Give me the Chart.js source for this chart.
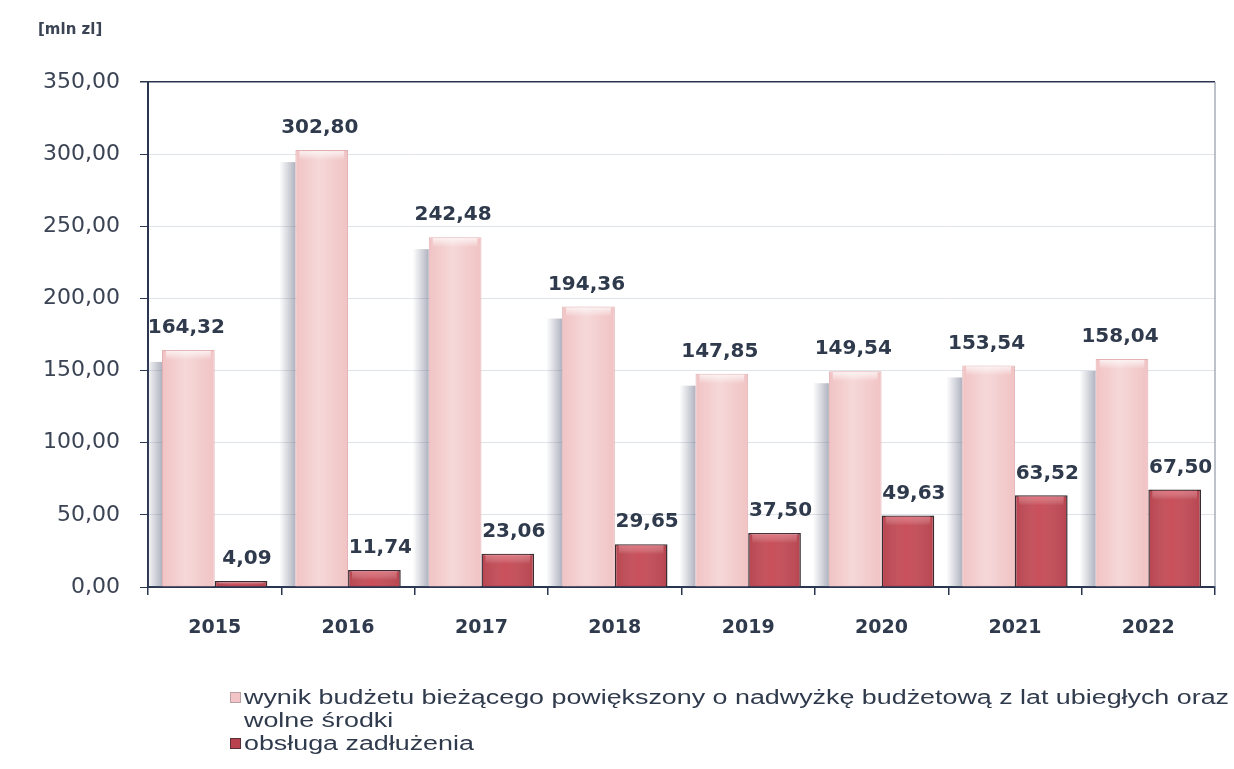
<!DOCTYPE html>
<html>
<head>
<meta charset="utf-8">
<script src="https://cdn.jsdelivr.net/npm/chart.js@4"></script>
<style>
  body { margin: 0; background: #fff; }
  #wrap { position: relative; width: 1234px; height: 769px; }
  #unit { position: absolute; left: 38px; top: 20px; font: bold 15px "DejaVu Sans"; color: #3b4454; }
  #legend { position: absolute; left: 230px; top: 686px; font: 20px "Liberation Sans"; color: #2f3a4c; line-height: 23px; }
  .item { position: relative; padding-left: 14px; }
  .box { position: absolute; left: 0; top: 6px; width: 11px; height: 11px; box-sizing: border-box; }
  .txt { display: inline-block; transform-origin: 0 0; white-space: nowrap; }
</style>
</head>
<body>
<div id="wrap">
  <canvas id="budgetChart" width="1234" height="769"></canvas>
  <div id="unit">[mln zl]</div>
  <div id="legend"></div>
</div>
<script>
// categories and series
const years = ["2015", "2016", "2017", "2018", "2019", "2020", "2021", "2022"];
const budgetResult = [164.32, 302.80, 242.48, 194.36, 147.85, 149.54, 153.54, 158.04];
const debtService = [4.09, 11.74, 23.06, 29.65, 37.50, 49.63, 63.52, 67.50];
const seriesNames = [
  ["wynik budżetu bieżącego powiększony o nadwyżkę budżetową z lat ubiegłych oraz", "wolne środki"],
  ["obsługa zadłużenia"],
];
const yMin = 0, yMax = 350, yStep = 50;

const fmt = v => v.toFixed(2).replace(".", ",");

// grey shadow on the left of the pink bars, drawn before the bars
const shadowPlugin = {
  id: "shadow",
  beforeDatasetsDraw(chart) {
    const ctx = chart.ctx;
    ctx.save();
    chart.getDatasetMeta(0).data.forEach(bar => {
      const x1 = bar.x - bar.width / 2;
      const g = ctx.createLinearGradient(x1 - 16, 0, x1, 0);
      g.addColorStop(0, "rgba(120,125,145,0)");
      g.addColorStop(1, "rgba(110,115,140,0.55)");
      ctx.fillStyle = g;
      ctx.fillRect(x1 - 16, bar.y + 12, 16, bar.base - bar.y - 12);
    });
    ctx.restore();
  },
  afterDatasetDraw(chart, args) {
    // soft highlight across each bar + light band at the top
    const ctx = chart.ctx;
    ctx.save();
    args.meta.data.forEach(bar => {
      const w = bar.width, x0 = bar.x - w / 2;
      const g = ctx.createLinearGradient(x0, 0, x0 + w, 0);
      g.addColorStop(0, "rgba(255,255,255,0)");
      g.addColorStop(0.45, args.index === 0 ? "rgba(255,255,255,0.35)" : "rgba(255,120,130,0.25)");
      g.addColorStop(1, "rgba(255,255,255,0)");
      ctx.fillStyle = g;
      ctx.fillRect(x0 + 1, bar.y + 1, w - 2, bar.base - bar.y - 2);
      const h = Math.min(10, bar.base - bar.y - 2);
      const t = ctx.createLinearGradient(0, bar.y, 0, bar.y + h);
      t.addColorStop(0, args.index === 0 ? "rgba(255,255,255,0.8)" : "rgba(255,150,160,0.5)");
      t.addColorStop(1, "rgba(255,255,255,0)");
      ctx.fillStyle = t;
      ctx.fillRect(x0 + 4, bar.y + 1, w - 8, h);
    });
    ctx.restore();
  },
};

// value labels above bars + frame line on the right
const labelPlugin = {
  id: "valueLabels",
  afterDatasetsDraw(chart) {
    const ctx = chart.ctx;
    const a = chart.chartArea;
    ctx.save();
    ctx.strokeStyle = "#7c8494";
    ctx.lineWidth = 1;
    ctx.beginPath();
    ctx.moveTo(a.right, a.top);
    ctx.lineTo(a.right, a.bottom);
    ctx.stroke();
    ctx.font = "bold 20px 'DejaVu Sans'";
    ctx.fillStyle = "#2f3a4c";
    ctx.textAlign = "center";
    ctx.textBaseline = "bottom";
    chart.data.datasets.forEach((ds, i) => {
      chart.getDatasetMeta(i).data.forEach((bar, j) => {
        const dx = i === 1 ? 6 : -2;
        ctx.fillText(fmt(ds.data[j]), bar.x + dx, bar.y - 12);
      });
    });
    ctx.restore();
  },
};

const axisColor = "#2a3550";

new Chart(document.getElementById("budgetChart").getContext("2d"), {
  type: "bar",
  data: {
    labels: years,
    datasets: [
      {
        label: seriesNames[0].join(" "),
        data: budgetResult,
        backgroundColor: "#f1c3c4",
        borderColor: "#e2b0b3",
        borderWidth: 1,
        categoryPercentage: 0.79,
        barPercentage: 1.0,
      },
      {
        label: seriesNames[1].join(" "),
        data: debtService,
        backgroundColor: "#b8434e",
        borderColor: "#3b2a30",
        borderWidth: 1.5,
        categoryPercentage: 0.79,
        barPercentage: 1.0,
      },
    ],
  },
  options: {
    responsive: false,
    animation: false,
    layout: { padding: { top: 82, right: 19, left: 0, bottom: 0 } },
    plugins: {
      legend: { display: false },
      tooltip: { enabled: false },
    },
    scales: {
      x: {
        grid: { drawOnChartArea: false, drawTicks: true, tickLength: 8, color: axisColor, lineWidth: 1.5 },
        border: { color: axisColor, width: 2 },
        ticks: { font: { family: "DejaVu Sans", size: 19, weight: "bold" }, color: "#2f3a4c", padding: 22 },
        afterFit: s => { s.height = 182; },
      },
      y: {
        min: yMin,
        max: yMax,
        ticks: {
          stepSize: yStep,
          callback: v => fmt(v),
          font: { family: "DejaVu Sans", size: 22 },
          color: "#3b4454",
          padding: 20,
        },
        grid: {
          color: c => (c.tick && c.tick.value === yMax ? axisColor : "#dfe3ea"),
          lineWidth: c => (c.tick && c.tick.value === yMax ? 1.5 : 1),
          tickColor: axisColor,
          tickLength: 8,
        },
        border: { color: axisColor, width: 2 },
        afterFit: s => { s.width = 148; },
      },
    },
  },
  plugins: [shadowPlugin, labelPlugin],
});

// legend built from the series names
const legend = document.getElementById("legend");
const boxStyles = [
  "background:#f3c4c5;border:1px solid #b9a0a4;",
  "background:#b8434e;border:1px solid #5a3038;",
];
seriesNames.forEach((lines, i) => {
  const item = document.createElement("div");
  item.className = "item";
  item.innerHTML = '<span class="box" style="' + boxStyles[i] + '"></span>' +
    lines.map(t => '<div><span class="txt">' + t + "</span></div>").join("");
  legend.appendChild(item);
});
// stretch the text a bit, like the scanned original
const first = legend.querySelector(".txt");
const k = 985 / first.getBoundingClientRect().width;
legend.querySelectorAll(".txt").forEach(s => { s.style.transform = "scaleX(" + k + ")"; });
</script>
</body>
</html>
